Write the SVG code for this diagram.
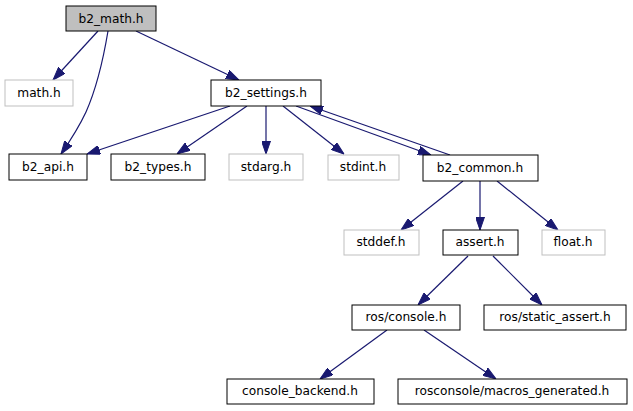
<svg xmlns="http://www.w3.org/2000/svg" width="633" height="411" viewBox="0 0 633 411">
<style>
.n rect{fill:#ffffff;stroke:#000000;stroke-width:1}
.g rect{fill:#ffffff;stroke:#bfbfbf;stroke-width:1}
.root rect{fill:#bfbfbf;stroke:#000000;stroke-width:1}
text{font-family:"DejaVu Sans","Liberation Sans",sans-serif;font-size:12.2px;text-anchor:middle;fill:#000000}
.e path{fill:none;stroke:#191970;stroke-width:1.2;marker-end:url(#ah)}
</style>
<defs>
<marker id="ah" viewBox="0 0 13 9" refX="13" refY="4.5" markerWidth="13" markerHeight="9" markerUnits="userSpaceOnUse" orient="auto">
<path d="M0,0 L13,4.5 L0,9 z" fill="#191970" stroke="#191970" stroke-width="1"/>
</marker>
</defs>
<rect width="633" height="411" fill="#ffffff"/>
<g class="e" id="edges">
<path d="M98,31 L53,80"/>
<path d="M108,31 C104,55 98,85 86,112 C79,127 70,141 61,154"/>
<path d="M136,31 L239,80"/>
<path d="M230,106 L87,154"/>
<path d="M247,106 L177,154"/>
<path d="M266,106 L266,154"/>
<path d="M283,106 L344,154"/>
<path d="M296,106 L431,155"/>
<path d="M450,155 L310,106"/>
<path d="M463,181 L401,230"/>
<path d="M480,181 L480,230"/>
<path d="M497,181 L558,230"/>
<path d="M468,256 L418,305"/>
<path d="M493,256 L542,305"/>
<path d="M387,330 L320,379"/>
<path d="M424,330 L496,379"/>
</g>
<g id="b2_math" class="root"><rect x="66" y="6" width="90" height="25"/><text x="111" y="23">b2_math.h</text></g>
<g id="math" class="g"><rect x="5" y="80" width="68" height="26"/><text x="39" y="97">math.h</text></g>
<g id="b2_settings" class="n"><rect x="211" y="80" width="110" height="26"/><text x="266" y="97">b2_settings.h</text></g>
<g id="b2_api" class="n"><rect x="9" y="154" width="78" height="26"/><text x="48" y="171">b2_api.h</text></g>
<g id="b2_types" class="n"><rect x="111" y="154" width="94" height="26"/><text x="158" y="171">b2_types.h</text></g>
<g id="stdarg" class="g"><rect x="229" y="154" width="74" height="26"/><text x="266" y="171">stdarg.h</text></g>
<g id="stdint" class="g"><rect x="328" y="155" width="71" height="25"/><text x="363" y="171">stdint.h</text></g>
<g id="b2_common" class="n"><rect x="423" y="155" width="115" height="26"/><text x="480" y="172">b2_common.h</text></g>
<g id="stddef" class="g"><rect x="344" y="230" width="75" height="25"/><text x="381" y="246">stddef.h</text></g>
<g id="assert" class="n"><rect x="443" y="230" width="75" height="25"/><text x="480" y="246">assert.h</text></g>
<g id="float" class="g"><rect x="542" y="230" width="63" height="25"/><text x="573" y="246">float.h</text></g>
<g id="ros_console" class="n"><rect x="352" y="305" width="108" height="25"/><text x="406" y="321">ros/console.h</text></g>
<g id="ros_static_assert" class="n"><rect x="484" y="305" width="142" height="25"/><text x="555" y="321">ros/static_assert.h</text></g>
<g id="console_backend" class="n"><rect x="227" y="379" width="147" height="25"/><text x="300" y="395">console_backend.h</text></g>
<g id="macros_generated" class="n"><rect x="398" y="379" width="229" height="25"/><text x="512" y="395">rosconsole/macros_generated.h</text></g>
</svg>
